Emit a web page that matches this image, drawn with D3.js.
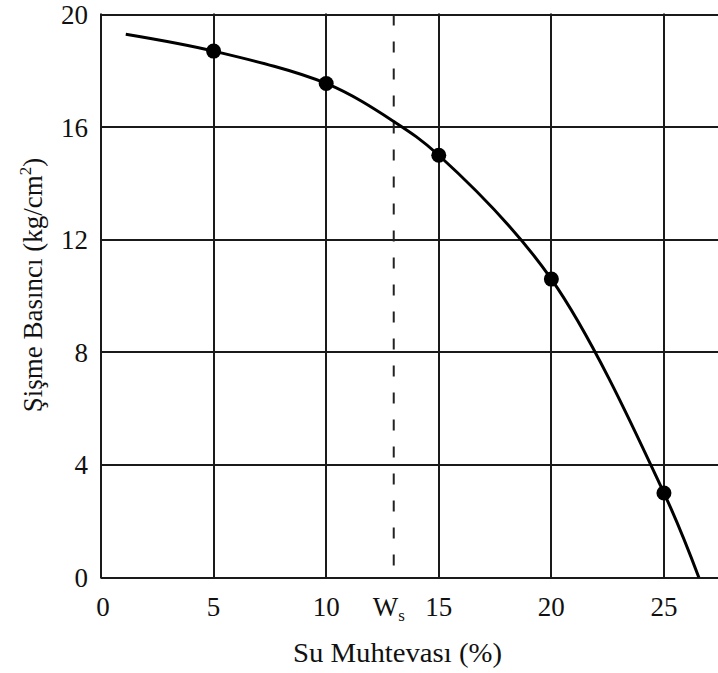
<!DOCTYPE html>
<html><head><meta charset="utf-8">
<script src="https://cdn.jsdelivr.net/npm/d3@7"></script>
<style>body{margin:0;background:#fff}svg{display:block}text{font-family:"Liberation Serif","Times New Roman",serif;fill:#111}</style>
</head><body>
<svg id="c" width="718" height="673"></svg>
<script>
// data
const pointX = [5, 10, 15, 20, 25];
const pointY = [18.7, 17.55, 15.0, 10.6, 3.0];
const curveX = [1.1, 5, 10, 13, 15, 20, 25, 26.55];
const curveY = [19.3, 18.7, 17.55, 16.2, 15.0, 10.6, 3.0, 0];
const xTicks = [0, 5, 10, 15, 20, 25];
const yTicks = [0, 4, 8, 12, 16, 20];
const wsValue = 13;

const svg = d3.select("#c");
const x = d3.scaleLinear().domain([0, 27.4]).range([101, 718]);
const y = d3.scaleLinear().domain([0, 20]).range([577.5, 14.5]);

const g = svg.append("g");
// horizontal grid
g.selectAll(".hg").data(yTicks).join("line")
  .attr("x1", x(0)).attr("x2", 718)
  .attr("y1", d => Math.round(y(d))).attr("y2", d => Math.round(y(d)))
  .attr("stroke", "#1a1a1a").attr("stroke-width", 2);
// vertical grid
g.selectAll(".vg").data(xTicks).join("line")
  .attr("x1", d => Math.round(x(d))).attr("x2", d => Math.round(x(d)))
  .attr("y1", y(20) - 1).attr("y2", y(0) + 1)
  .attr("stroke", "#1a1a1a").attr("stroke-width", 2);
// Ws dashed line
g.append("line")
  .attr("x1", x(wsValue)).attr("x2", x(wsValue))
  .attr("y1", y(20)).attr("y2", y(0))
  .attr("stroke", "#222").attr("stroke-width", 2)
  .attr("stroke-dasharray", "11,16");

// curve
const line = d3.line().x(d => x(d[0])).y(d => y(d[1])).curve(d3.curveCatmullRom.alpha(0.5));
g.append("path").datum(curveX.map((v, i) => [v, curveY[i]]))
  .attr("d", line).attr("fill", "none").attr("stroke", "#000").attr("stroke-width", 3);
// points
g.selectAll(".pt").data(pointX.map((v, i) => [v, pointY[i]])).join("circle")
  .attr("cx", d => x(d[0])).attr("cy", d => y(d[1])).attr("r", 7.5).attr("fill", "#000");

// y tick labels
svg.selectAll(".yl").data(yTicks).join("text")
  .attr("x", 88).attr("y", d => y(d)).attr("dy", "0.35em")
  .attr("text-anchor", "end").attr("font-size", 27).text(d => d);
// x tick labels
svg.selectAll(".xl").data(xTicks).join("text")
  .attr("x", d => x(d) + (d === 0 ? 2 : 0)).attr("y", 616)
  .attr("text-anchor", "middle").attr("font-size", 27).text(d => d);
// Ws label
const ws = svg.append("text").attr("x", x(wsValue) - 5).attr("y", 616)
  .attr("text-anchor", "middle").attr("font-size", 27);
ws.append("tspan").text("W");
ws.append("tspan").attr("font-size", 17).attr("dy", 5).text("s");

// axis titles
svg.append("text").attr("x", 397.5).attr("y", 662)
  .attr("text-anchor", "middle").attr("font-size", 27)
  .attr("textLength", 209).attr("lengthAdjust", "spacingAndGlyphs")
  .text("Su Muhtevası (%)");
const yt = svg.append("text").attr("transform", "translate(42,285) rotate(-90)")
  .attr("text-anchor", "middle").attr("font-size", 27);
yt.append("tspan").text("Şişme Basıncı (kg/cm");
yt.append("tspan").attr("font-size", 17).attr("dy", -11).text("2");
yt.append("tspan").attr("dy", 11).text(")");
</script>
</body></html>
